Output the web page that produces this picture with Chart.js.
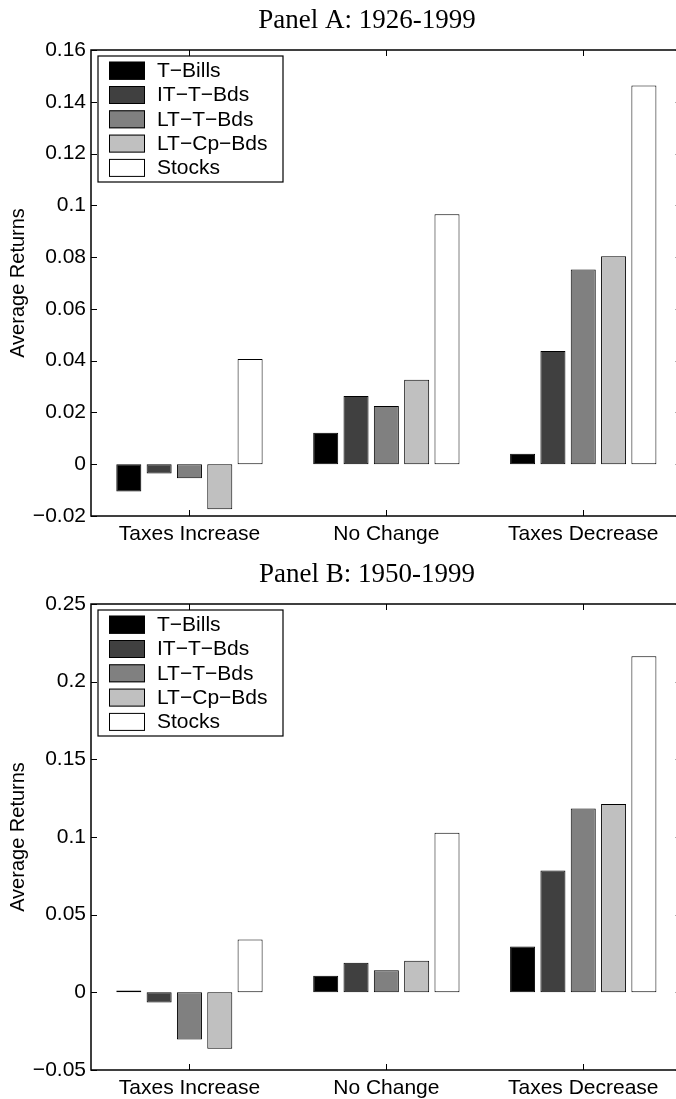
<!DOCTYPE html>
<html>
<head>
<meta charset="utf-8">
<script src="https://cdn.jsdelivr.net/npm/chart.js@4.4.1/dist/chart.umd.min.js"></script>
<style>
  html, body { margin: 0; padding: 0; background: #fff; overflow: hidden; }
  .panel { position: absolute; left: 0; width: 690px; height: 549px; }
  #panelA { top: 0; }
  #panelB { top: 554px; }
</style>
</head>
<body>
<div class="panel" id="panelA"><canvas id="chartA"></canvas></div>
<div class="panel" id="panelB"><canvas id="chartB"></canvas></div>
<script>
// categories and series
const CATEGORIES = ['Taxes Increase', 'No Change', 'Taxes Decrease'];
const SERIES = ['T\u2212Bills', 'IT\u2212T\u2212Bds', 'LT\u2212T\u2212Bds', 'LT\u2212Cp\u2212Bds', 'Stocks'];
const FILLS = ['#000000', '#404040', '#808080', '#c0c0c0', '#ffffff'];

// Panel A: 1926-1999
const tBillsA = [-0.0105, 0.0122, 0.0040];
const itBondsA = [-0.0036, 0.0264, 0.0437];
const ltBondsA = [-0.0054, 0.0225, 0.0752];
const corpBondsA = [-0.0174, 0.0326, 0.0803];
const stocksA = [0.0406, 0.0966, 0.1463];
const yTicksA = [-0.02, 0, 0.02, 0.04, 0.06, 0.08, 0.1, 0.12, 0.14, 0.16];

// Panel B: 1950-1999
const tBillsB = [0.0012, 0.0106, 0.0295];
const itBondsB = [-0.0066, 0.0190, 0.0785];
const ltBondsB = [-0.0303, 0.0142, 0.1183];
const corpBondsB = [-0.0363, 0.0203, 0.1213];
const stocksB = [0.0340, 0.1028, 0.2164];
const yTicksB = [-0.05, 0, 0.05, 0.1, 0.15, 0.2, 0.25];

const SANS = "'Liberation Sans', Arial, sans-serif";
const SERIF = "'Liberation Serif', 'DejaVu Serif', serif";

// box round the axes with inward ticks, like matlab
const matlabAxes = {
  id: 'matlabAxes',
  afterDatasetsDraw(chart) {
    const {ctx, chartArea: a, scales: {x, y}} = chart;
    ctx.save();
    ctx.strokeStyle = '#000';
    ctx.lineWidth = 1;
    ctx.beginPath();
    y.ticks.forEach((t) => {
      const py = Math.round(y.getPixelForValue(t.value)) + 0.5;
      ctx.moveTo(a.left, py);
      ctx.lineTo(a.left + 6, py);
      ctx.moveTo(a.right, py);
      ctx.lineTo(a.right - 6, py);
    });
    x.ticks.forEach((t, i) => {
      const px = Math.round(x.getPixelForTick(i)) + 0.5;
      ctx.moveTo(px, a.bottom);
      ctx.lineTo(px, a.bottom - 6);
      ctx.moveTo(px, a.top);
      ctx.lineTo(px, a.top + 6);
    });
    ctx.stroke();
    ctx.lineWidth = 1.5;
    ctx.strokeRect(a.left, a.top, a.right - a.left, a.bottom - a.top);
    ctx.restore();
  },
};

// legend box in the top left corner of the axes
const boxLegend = {
  id: 'boxLegend',
  afterDraw(chart) {
    const {ctx, chartArea: a} = chart;
    const left = a.left + 7;
    const top = a.top + 6;
    ctx.save();
    ctx.fillStyle = '#fff';
    ctx.fillRect(left, top, 185, 126);
    ctx.strokeStyle = '#000';
    ctx.lineWidth = 1.2;
    ctx.strokeRect(left, top, 185, 126);
    ctx.font = '21px ' + SANS;
    ctx.textBaseline = 'middle';
    chart.data.datasets.forEach((ds, i) => {
      const sy = top + 5.7 + i * 24.3;
      ctx.fillStyle = ds.backgroundColor;
      ctx.fillRect(left + 11, sy, 36, 18);
      ctx.lineWidth = 1;
      ctx.strokeRect(left + 11.5, sy + 0.5, 35, 17);
      ctx.fillStyle = '#000';
      ctx.fillText(ds.label, left + 59, sy + 9.5);
    });
    ctx.restore();
  },
};

// panel title, serif like the latex caption
const panelTitle = {
  id: 'panelTitle',
  afterDraw(chart, args, opts) {
    const {ctx} = chart;
    ctx.save();
    ctx.font = '27px ' + SERIF;
    ctx.fillStyle = '#000';
    ctx.textAlign = 'center';
    ctx.textBaseline = 'middle';
    ctx.fillText(opts.text, 367, 21);
    ctx.restore();
  },
};

function fmtTick(v) {
  return String(+v.toFixed(2)).replace('-', '\u2212');
}

function buildChart(id, title, series, ticks) {
  const datasets = series.map((values, i) => ({
    label: SERIES[i],
    data: values,
    backgroundColor: FILLS[i],
    borderColor: '#000',
    borderWidth: 1,
    borderSkipped: false,
    categoryPercentage: 0.77,
    barPercentage: 0.825,
  }));
  return new Chart(document.getElementById(id), {
    type: 'bar',
    data: {labels: CATEGORIES, datasets},
    options: {
      responsive: true,
      maintainAspectRatio: false,
      animation: false,
      layout: {padding: {top: 50, right: 8.3, left: 0, bottom: 0}},
      plugins: {
        legend: {display: false},
        tooltip: {enabled: false},
        panelTitle: {text: title},
      },
      scales: {
        x: {
          grid: {display: false, drawTicks: false},
          border: {display: false},
          ticks: {color: '#000', font: {family: SANS, size: 21}, padding: 6, maxRotation: 0},
          afterFit: (s) => { s.height = 33; },
        },
        y: {
          min: ticks[0],
          max: ticks[ticks.length - 1],
          grid: {display: false, drawTicks: false},
          border: {display: false},
          afterBuildTicks: (s) => { s.ticks = ticks.map((v) => ({value: v})); },
          ticks: {
            color: '#000',
            font: {family: SANS, size: 21},
            padding: 5,
            callback: (v) => fmtTick(v),
          },
          title: {
            display: true,
            text: 'Average Returns',
            color: '#000',
            font: {family: SANS, size: 20},
            padding: {top: 6, bottom: 0},
          },
          afterFit: (s) => { s.width = 91; },
        },
      },
    },
    plugins: [matlabAxes, boxLegend, panelTitle],
  });
}

buildChart('chartA', 'Panel A: 1926-1999',
  [tBillsA, itBondsA, ltBondsA, corpBondsA, stocksA], yTicksA);
buildChart('chartB', 'Panel B: 1950-1999',
  [tBillsB, itBondsB, ltBondsB, corpBondsB, stocksB], yTicksB);
</script>
</body>
</html>
